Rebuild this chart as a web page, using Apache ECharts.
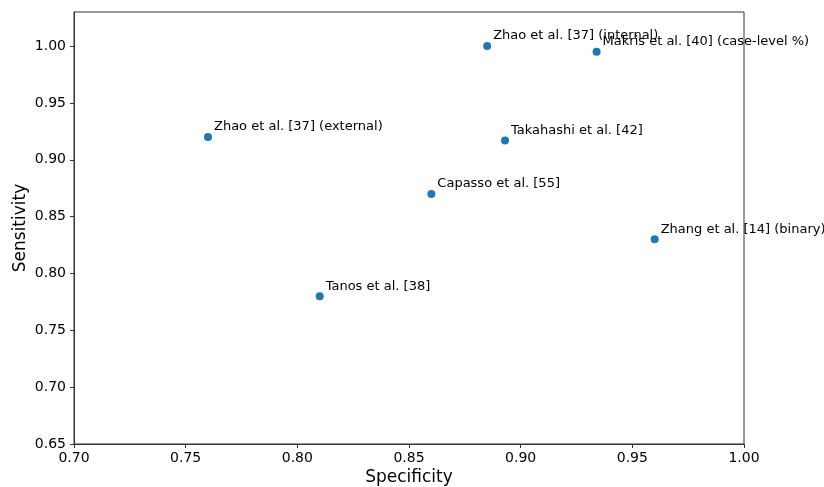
<!DOCTYPE html>
<html>
<head>
<meta charset="utf-8">
<script src="https://cdn.jsdelivr.net/npm/echarts@6/dist/echarts.min.js"></script>
<style>html,body{margin:0;padding:0;background:#fff}#c{width:824px;height:487px}</style>
</head>
<body>
<div id="c"></div>
<script>
const studies = ["Zhao et al. [37] (internal)", "Makris et al. [40] (case-level %)", "Zhao et al. [37] (external)", "Takahashi et al. [42]", "Capasso et al. [55]", "Zhang et al. [14] (binary)", "Tanos et al. [38]"];
const specificity = [0.885, 0.934, 0.760, 0.893, 0.860, 0.960, 0.810];
const sensitivity = [1.000, 0.995, 0.920, 0.917, 0.870, 0.830, 0.780];
const xTicks = [0.70, 0.75, 0.80, 0.85, 0.90, 0.95, 1.00];
const yTicks = [0.65, 0.70, 0.75, 0.80, 0.85, 0.90, 0.95, 1.00];

const font = "DejaVu Sans";
const chart = echarts.init(document.getElementById('c'));
chart.setOption({
  animation: false,
  grid: { left: 74, right: 80, top: 12, bottom: 43, containLabel: false, outerBoundsMode: 'none',
          show: true, borderColor: '#333', borderWidth: 1, backgroundColor: 'transparent' },
  xAxis: {
    type: 'value', min: 0.70, max: 1.00, interval: 0.05,
    name: 'Specificity', nameLocation: 'middle', nameGap: 25, nameMoveOverlap: false,
    nameTextStyle: { fontFamily: font, fontSize: 17, color: '#000' },
    axisLine: { show: true, lineStyle: { color: '#333' } },
    axisTick: { show: true, length: 4, lineStyle: { color: '#333' }, customValues: xTicks },
    axisLabel: { fontFamily: font, fontSize: 14, color: '#000', margin: 7, customValues: xTicks, formatter: v => v.toFixed(2) },
    splitLine: { show: false }
  },
  yAxis: {
    type: 'value', min: 0.65, max: 1.03, interval: 0.05,
    name: 'Sensitivity', nameLocation: 'middle', nameGap: 45, nameMoveOverlap: false,
    nameTextStyle: { fontFamily: font, fontSize: 17, color: '#000' },
    axisLine: { show: true, lineStyle: { color: '#333' } },
    axisTick: { show: true, length: 4, lineStyle: { color: '#333' }, customValues: yTicks },
    axisLabel: { fontFamily: font, fontSize: 14, color: '#000', margin: 8, customValues: yTicks, formatter: v => v.toFixed(2) },
    splitLine: { show: false }
  },
  series: [{
    type: 'scatter',
    symbolSize: 8,
    itemStyle: { color: '#1f77b4', opacity: 1 },
    data: studies.map((s, i) => ({ name: s, value: [specificity[i], sensitivity[i]] })),
    label: {
      show: true, position: [10, -6], align: 'left', verticalAlign: 'middle',
      formatter: p => p.name,
      fontFamily: font, fontSize: 13, color: '#000'
    },
    labelLayout: { hideOverlap: false },
    emphasis: { disabled: true }
  }]
});
</script>
</body>
</html>
